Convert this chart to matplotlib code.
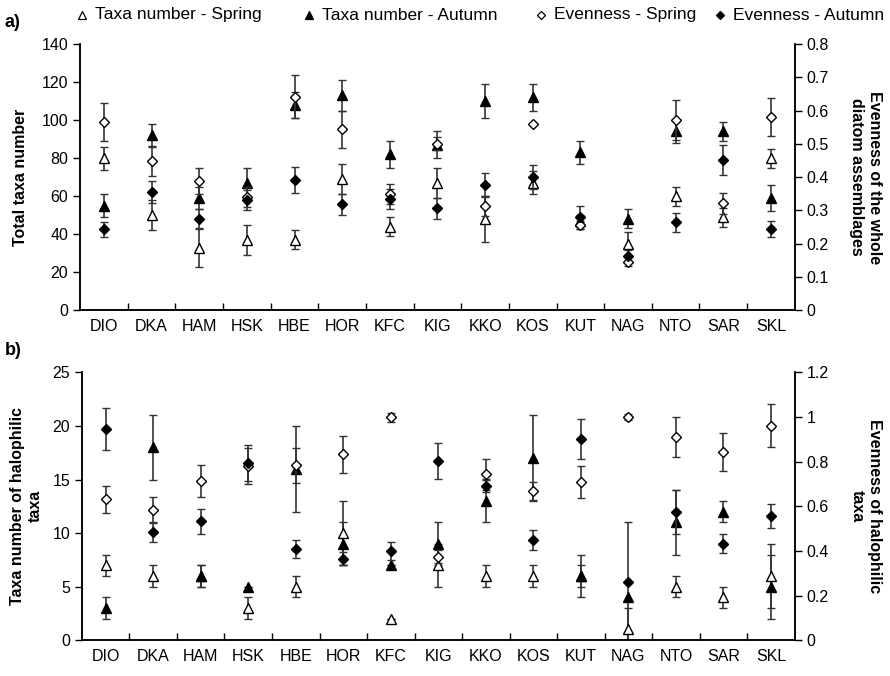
import numpy as np
import matplotlib
matplotlib.use('Agg')
import matplotlib.pyplot as plt
from matplotlib.lines import Line2D

plt.rcParams['font.family'] = ['Liberation Sans', 'DejaVu Sans']

sites = ['DIO', 'DKA', 'HAM', 'HSK', 'HBE', 'HOR', 'KFC', 'KIG', 'KKO', 'KOS',
         'KUT', 'NAG', 'NTO', 'SAR', 'SKL']

# a) 全部硅藻
taxa_spring_a = [80, 50, 33, 37, 37, 69, 44, 67, 48, 67, 47, 35, 60, 49, 80]
taxa_spring_a_err = [6, 8, 10, 8, 5, 8, 5, 8, 12, 6, 3, 6, 5, 5, 5]
taxa_autumn_a = [55, 92, 59, 67, 108, 113, 82, 87, 110, 112, 83, 48, 94, 94, 59]
taxa_autumn_a_err = [6, 6, 6, 8, 7, 8, 7, 7, 9, 7, 6, 5, 6, 5, 7]
even_spring_a = [0.565, 0.448, 0.388, 0.340, 0.642, 0.544, 0.350, 0.500, 0.314, 0.559,
                 0.256, 0.145, 0.571, 0.321, 0.581]
even_spring_a_err = [0.057, 0.045, 0.04, 0.03, 0.065, 0.056, 0.03, 0.02, 0.03, 0.0,
                     0.013, 0.013, 0.06, 0.032, 0.058]
even_autumn_a = [0.243, 0.354, 0.275, 0.331, 0.392, 0.318, 0.333, 0.306, 0.376, 0.400,
                 0.279, 0.162, 0.264, 0.451, 0.244]
even_autumn_a_err = [0.023, 0.033, 0.03, 0.03, 0.039, 0.032, 0.03, 0.032, 0.037, 0.037,
                     0.035, 0.018, 0.028, 0.044, 0.023]

# b) 嗜盐类群
taxa_spring_b = [7, 6, 6, 3, 5, 10, 2, 7, 6, 6, 6, 1, 5, 4, 6]
taxa_spring_b_err = [1, 1, 1, 1, 1, 3, 0, 2, 1, 1, 1, 2, 1, 1, 3]
taxa_autumn_b = [3, 18, 6, 5, 16, 9, 7, 9, 13, 17, 6, 4, 11, 12, 5]
taxa_autumn_b_err = [1, 3, 1, 0, 4, 2, 0, 2, 2, 4, 2, 7, 3, 1, 3]
even_spring_b = [0.631, 0.583, 0.714, 0.781, 0.784, 0.834, 1.0, 0.374, 0.743, 0.668,
                 0.71, 1.0, 0.911, 0.844, 0.961]
even_spring_b_err = [0.062, 0.058, 0.073, 0.08, 0.078, 0.083, 0.02, 0.03, 0.07, 0.04,
                     0.072, 0.015, 0.09, 0.085, 0.096]
even_autumn_b = [0.946, 0.483, 0.533, 0.795, 0.408, 0.366, 0.399, 0.802, 0.692, 0.448,
                 0.9, 0.261, 0.575, 0.433, 0.557]
even_autumn_b_err = [0.095, 0.045, 0.055, 0.08, 0.04, 0.03, 0.04, 0.08, 0.03, 0.045,
                     0.09, 0.0, 0.1, 0.043, 0.055]

legend_labels = ['Taxa number - Spring', 'Taxa number - Autumn', 'Evenness - Spring',
                 'Evenness - Autumn']

FS = 11.5
ECOL = '#333333'


def draw(ax, ax2, ts, tse, ta, tae, es, ese, ea, eae):
    x = np.arange(len(sites))
    kw = dict(ls='none', ecolor=ECOL, elinewidth=1.2, capsize=2.8, capthick=1.2,
              markeredgecolor='black', markeredgewidth=1.0)
    ax.errorbar(x, ts, yerr=tse, marker='^', ms=7, mfc='white', **kw)
    ax.errorbar(x, ta, yerr=tae, marker='^', ms=7, mfc='black', **kw)
    ax2.errorbar(x, es, yerr=ese, marker='D', ms=5.5, mfc='white', **kw)
    ax2.errorbar(x, ea, yerr=eae, marker='D', ms=5.5, mfc='black', **kw)

    ax.set_xlim(-0.5, len(sites) - 0.5)
    ax.set_xticks(np.arange(len(sites) - 1) + 0.5)
    ax.set_xticklabels([])
    ax.set_xticks(x, minor=True)
    ax.set_xticklabels(sites, minor=True, fontsize=FS)
    ax.tick_params(axis='x', which='major', direction='in', length=5, width=1)
    ax.tick_params(axis='x', which='minor', length=0, pad=6)
    ax.tick_params(axis='y', direction='out', length=5, width=1, labelsize=FS)
    ax2.tick_params(axis='y', direction='out', length=5, width=1, labelsize=FS)
    for a in (ax, ax2):
        a.spines['top'].set_visible(False)
        for s in ('left', 'right', 'bottom'):
            a.spines[s].set_linewidth(1.1)


fig = plt.figure(figsize=(8.9, 6.76), dpi=100)

ax_a = fig.add_axes([0.090, 0.541, 0.803, 0.394])
ax_a2 = ax_a.twinx()
draw(ax_a, ax_a2, taxa_spring_a, taxa_spring_a_err, taxa_autumn_a, taxa_autumn_a_err,
     even_spring_a, even_spring_a_err, even_autumn_a, even_autumn_a_err)
ax_a.set_ylim(0, 140)
ax_a.set_yticks(np.arange(0, 141, 20))
ax_a2.set_ylim(0, 0.8)
ax_a2.set_yticks(np.arange(0, 0.81, 0.1))
ax_a2.set_yticklabels(['0'] + ['%.1f' % v for v in np.arange(0.1, 0.81, 0.1)])
ax_a.set_ylabel('Total taxa number', fontsize=FS, fontweight='bold', labelpad=10)
ax_a2.set_ylabel('Evenness of the whole\ndiatom assemblages', fontsize=FS,
                 fontweight='bold', rotation=270, labelpad=38)

ax_b = fig.add_axes([0.092, 0.053, 0.801, 0.396])
ax_b2 = ax_b.twinx()
draw(ax_b, ax_b2, taxa_spring_b, taxa_spring_b_err, taxa_autumn_b, taxa_autumn_b_err,
     even_spring_b, even_spring_b_err, even_autumn_b, even_autumn_b_err)
ax_b.set_ylim(0, 25)
ax_b.set_yticks(np.arange(0, 26, 5))
ax_b2.set_ylim(0, 1.2)
ax_b2.set_yticks(np.arange(0, 1.21, 0.2))
ax_b2.set_yticklabels(['0', '0.2', '0.4', '0.6', '0.8', '1', '1.2'])
ax_b.set_ylabel('Taxa number of halophilic\ntaxa', fontsize=FS, fontweight='bold',
                labelpad=7)
ax_b2.set_ylabel('Evenness of halophilic\ntaxa', fontsize=FS, fontweight='bold',
                 rotation=270, labelpad=38)

fig.text(0.005, 0.967, 'a)', fontsize=13, fontweight='bold', va='center')
fig.text(0.005, 0.482, 'b)', fontsize=13, fontweight='bold', va='center')

# 图例
leg_markers = [('^', 'white', 6), ('^', 'black', 6), ('D', 'white', 4.5), ('D', 'black', 4.5)]
leg_x = [82, 309, 541, 720]
for (m, fc, ms), lx, lab in zip(leg_markers, leg_x, legend_labels):
    fig.add_artist(Line2D([lx / 890], [1 - 15 / 676], transform=fig.transFigure,
                          ls='none', marker=m, ms=ms, mfc=fc, mec='black', mew=0.9))
    fig.text((lx + 13) / 890, 1 - 15 / 676, lab, fontsize=12.5, va='center', ha='left')

fig.savefig('out.png', dpi=100)
